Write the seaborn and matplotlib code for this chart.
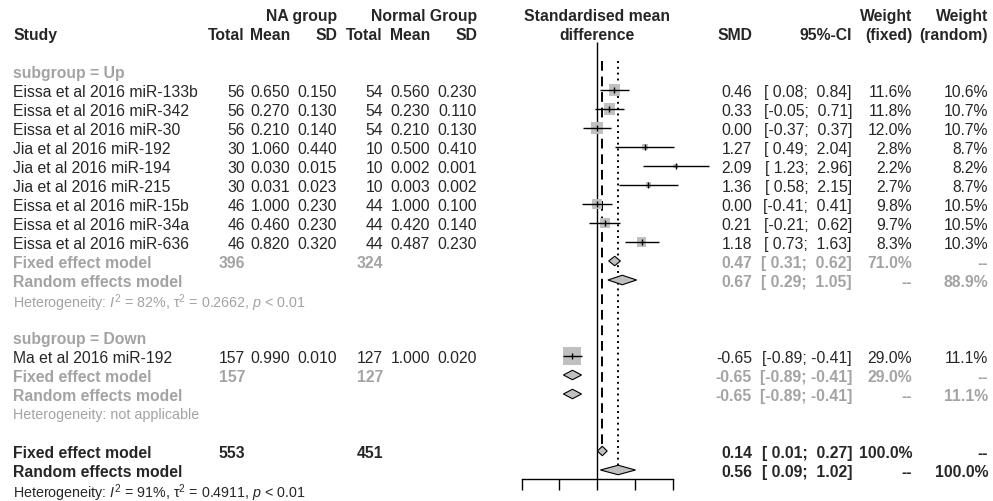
import matplotlib
matplotlib.use("Agg")
import pandas as pd
import matplotlib.pyplot as plt
from matplotlib.patches import Polygon
import seaborn as sns

# study level data
studies = ["Eissa et al 2016 miR-133b", "Eissa et al 2016 miR-342", "Eissa et al 2016 miR-30",
           "Jia et al 2016 miR-192", "Jia et al 2016 miR-194", "Jia et al 2016 miR-215",
           "Eissa et al 2016 miR-15b", "Eissa et al 2016 miR-34a", "Eissa et al 2016 miR-636",
           "Ma et al 2016 miR-192"]
subgroup = ["Up"] * 9 + ["Down"]
n_na = [56, 56, 56, 30, 30, 30, 46, 46, 46, 157]
mean_na = [0.650, 0.270, 0.210, 1.060, 0.030, 0.031, 1.000, 0.460, 0.820, 0.990]
sd_na = [0.150, 0.130, 0.140, 0.440, 0.015, 0.023, 0.230, 0.230, 0.320, 0.010]
n_norm = [54, 54, 54, 10, 10, 10, 44, 44, 44, 127]
mean_norm = [0.560, 0.230, 0.210, 0.500, 0.002, 0.003, 1.000, 0.420, 0.487, 1.000]
sd_norm = [0.230, 0.110, 0.130, 0.410, 0.001, 0.002, 0.100, 0.140, 0.230, 0.020]
smd = [0.46, 0.33, 0.00, 1.27, 2.09, 1.36, 0.00, 0.21, 1.18, -0.65]
ci_lo = [0.08, -0.05, -0.37, 0.49, 1.23, 0.58, -0.41, -0.21, 0.73, -0.89]
ci_hi = [0.84, 0.71, 0.37, 2.04, 2.96, 2.15, 0.41, 0.62, 1.63, -0.41]
w_fixed = [11.6, 11.8, 12.0, 2.8, 2.2, 2.7, 9.8, 9.7, 8.3, 29.0]
w_random = [10.6, 10.7, 10.7, 8.7, 8.2, 8.7, 10.5, 10.5, 10.3, 11.1]

# subgroup summaries: fixed then random
groups = ["Up", "Down"]
grp_n_na = [396, 157]
grp_n_norm = [324, 127]
grp_fixed = [(0.47, 0.31, 0.62), (-0.65, -0.89, -0.41)]
grp_random = [(0.67, 0.29, 1.05), (-0.65, -0.89, -0.41)]
grp_w_fixed = [71.0, 29.0]
grp_w_random = [88.9, 11.1]
grp_het = [r"Heterogeneity: $I^2$ = 82%, τ$^2$ = 0.2662, $p$ < 0.01",
           "Heterogeneity: not applicable"]

# overall
tot_n_na = 553
tot_n_norm = 451
tot_fixed = (0.14, 0.01, 0.27)
tot_random = (0.56, 0.09, 1.02)
tot_het = r"Heterogeneity: $I^2$ = 91%, τ$^2$ = 0.4911, $p$ < 0.01"

sns.set_style("white")
plt.rcParams["font.family"] = ["Liberation Sans", "DejaVu Sans"]
plt.rcParams["mathtext.fontset"] = "custom"
plt.rcParams["mathtext.rm"] = "Liberation Sans"
plt.rcParams["mathtext.it"] = "Liberation Sans:italic"
plt.rcParams["mathtext.bf"] = "Liberation Sans:bold"

W, H = 993, 502
FS = 11.3
FS_HET = 10.3
GREY = "#a3a3a3"
SQ = "#c0c0c0"


def ypix(row):
    return 72 + 19 * row


fig = plt.figure(figsize=(W / 100, H / 100), dpi=100)
tx = fig.add_axes([0, 0, 1, 1])
tx.set_xlim(0, W)
tx.set_ylim(H, 0)
tx.axis("off")

# forest axes: -2..2 spans pixels 521.5..672.5, bottom spine at y=480
top_px, bot_px = 40, 480
fx = fig.add_axes([521.5 / W, (H - bot_px) / H, 151 / W, (bot_px - top_px) / H])
fx.patch.set_alpha(0)

# column right edges (pixels)
X_STUDY = 13
X_N1, X_M1, X_S1 = 245, 290, 337
X_N2, X_M2, X_S2 = 383, 430, 477
X_SMD, X_CI, X_WF, X_WR = 752, 852, 912, 988


def put(x, row, s, ha="right", size=FS, **kw):
    tx.text(x, ypix(row), s, ha=ha, va="center_baseline", fontsize=size, **kw)


def fmt_ci(lo, hi):
    return f"[{lo:5.2f}; {hi:5.2f}]"


def diamond(row, est, lo, hi):
    h = 0.25
    fx.add_patch(Polygon([(lo, row), (est, row - h), (hi, row), (est, row + h)],
                         closed=True, facecolor=SQ, edgecolor="black", lw=0.8,
                         zorder=4, clip_on=False))


# headers
put(X_S1, -3, "NA group", weight="bold")
put(X_S2, -3, "Normal Group", weight="bold")
put(597, -3, "Standardised mean", ha="center", weight="bold")
put(597, -2, "difference", ha="center", weight="bold")
put(X_WF, -3, "Weight", weight="bold")
put(X_WR, -3, "Weight", weight="bold")
put(X_STUDY, -2, "Study", ha="left", weight="bold")
for x, s in zip([X_N1, X_M1, X_S1, X_N2, X_M2, X_S2, X_SMD, X_CI, X_WF, X_WR],
                ["Total", "Mean", "SD", "Total", "Mean", "SD", "SMD", "95%-CI", "(fixed)", "(random)"]):
    put(x, -2, s, weight="bold")

# assign rows
rows = []
grp_rows = {}
r = 0
for g in groups:
    idx = [i for i, sg in enumerate(subgroup) if sg == g]
    grp_rows[g] = r
    r += 1
    for i in idx:
        rows.append((i, r))
        r += 1
    r += 4
overall_row = r

df = pd.DataFrame({"smd": smd, "lo": ci_lo, "hi": ci_hi, "w": w_fixed})
df["row"] = 0
for i, rr in rows:
    df.loc[i, "row"] = rr

# study rows text
for i, rr in rows:
    put(X_STUDY, rr, studies[i], ha="left")
    put(X_N1, rr, f"{n_na[i]}")
    put(X_M1, rr, f"{mean_na[i]:.3f}")
    put(X_S1, rr, f"{sd_na[i]:.3f}")
    put(X_N2, rr, f"{n_norm[i]}")
    put(X_M2, rr, f"{mean_norm[i]:.3f}")
    put(X_S2, rr, f"{sd_norm[i]:.3f}")
    put(X_SMD, rr, f"{smd[i]:.2f}")
    put(X_CI, rr, fmt_ci(ci_lo[i], ci_hi[i]))
    put(X_WF, rr, f"{w_fixed[i]:.1f}%")
    put(X_WR, rr, f"{w_random[i]:.1f}%")

# squares sized by fixed weight (area proportional)
k = 5.8
sns.scatterplot(data=df, x="smd", y="row", size="w", sizes=(k * df["w"].min(), k * df["w"].max()),
                marker="s", color=SQ, linewidth=0, legend=False, ax=fx, zorder=2)
fx.collections[-1].set_clip_on(False)
fx.hlines(df["row"], df["lo"], df["hi"], color="black", lw=1, zorder=3, clip_on=False)
fx.plot(df["smd"], df["row"], ls="none", marker="|", ms=5, mew=1, color="black", zorder=3, clip_on=False)

# subgroup summaries
for j, g in enumerate(groups):
    r0 = grp_rows[g]
    rf = r0 + 1 + subgroup.count(g)
    put(X_STUDY, r0, f"subgroup = {g}", ha="left", weight="bold", color=GREY)
    put(X_STUDY, rf, "Fixed effect model", ha="left", weight="bold", color=GREY)
    put(X_N1, rf, f"{grp_n_na[j]}", weight="bold", color=GREY)
    put(X_N2, rf, f"{grp_n_norm[j]}", weight="bold", color=GREY)
    est, lo, hi = grp_fixed[j]
    put(X_SMD, rf, f"{est:.2f}", weight="bold", color=GREY)
    put(X_CI, rf, fmt_ci(lo, hi), weight="bold", color=GREY)
    put(X_WF, rf, f"{grp_w_fixed[j]:.1f}%", weight="bold", color=GREY)
    put(X_WR, rf, "--", weight="bold", color=GREY)
    diamond(rf, est, lo, hi)
    put(X_STUDY, rf + 1, "Random effects model", ha="left", weight="bold", color=GREY)
    est, lo, hi = grp_random[j]
    put(X_SMD, rf + 1, f"{est:.2f}", weight="bold", color=GREY)
    put(X_CI, rf + 1, fmt_ci(lo, hi), weight="bold", color=GREY)
    put(X_WF, rf + 1, "--", weight="bold", color=GREY)
    put(X_WR, rf + 1, f"{grp_w_random[j]:.1f}%", weight="bold", color=GREY)
    diamond(rf + 1, est, lo, hi)
    put(X_STUDY, rf + 2, grp_het[j], ha="left", size=FS_HET, color=GREY)

# overall
ro = overall_row
put(X_STUDY, ro, "Fixed effect model", ha="left", weight="bold")
put(X_N1, ro, f"{tot_n_na}", weight="bold")
put(X_N2, ro, f"{tot_n_norm}", weight="bold")
put(X_SMD, ro, f"{tot_fixed[0]:.2f}", weight="bold")
put(X_CI, ro, fmt_ci(tot_fixed[1], tot_fixed[2]), weight="bold")
put(X_WF, ro, "100.0%", weight="bold")
put(X_WR, ro, "--", weight="bold")
diamond(ro, *tot_fixed)
put(X_STUDY, ro + 1, "Random effects model", ha="left", weight="bold")
put(X_SMD, ro + 1, f"{tot_random[0]:.2f}", weight="bold")
put(X_CI, ro + 1, fmt_ci(tot_random[1], tot_random[2]), weight="bold")
put(X_WF, ro + 1, "--", weight="bold")
put(X_WR, ro + 1, "100.0%", weight="bold")
diamond(ro + 1, *tot_random)
put(X_STUDY, ro + 2, tot_het, ha="left", size=FS_HET)

# axis styling (after seaborn, which sets its own labels)
fx.set_xlim(-2, 2)
fx.set_ylim((bot_px - 72) / 19, (top_px - 72) / 19)
fx.set_xticks([-2, -1, 0, 1, 2])
fx.set_xticklabels([])
fx.set_yticks([])
fx.set_xlabel("")
fx.set_ylabel("")
fx.tick_params(axis="x", length=8, width=1, direction="out", bottom=True, color="black")
for s in ["top", "left", "right"]:
    fx.spines[s].set_visible(False)
fx.spines["bottom"].set_linewidth(1)
fx.spines["bottom"].set_color("black")

# reference lines
y_bot = fx.get_ylim()[0]
fx.vlines(0, -1.55, y_bot, color="black", lw=1, zorder=1)
fx.vlines(tot_fixed[0], -0.55, ro - 0.26, color="black", lw=1.4, linestyles=(0, (5, 3)), zorder=1)
fx.vlines(tot_random[0], -0.55, ro + 1 - 0.26, color="black", lw=1.4, linestyles=(0, (1, 2)), zorder=1)

fig.savefig("out.png", dpi=100)
